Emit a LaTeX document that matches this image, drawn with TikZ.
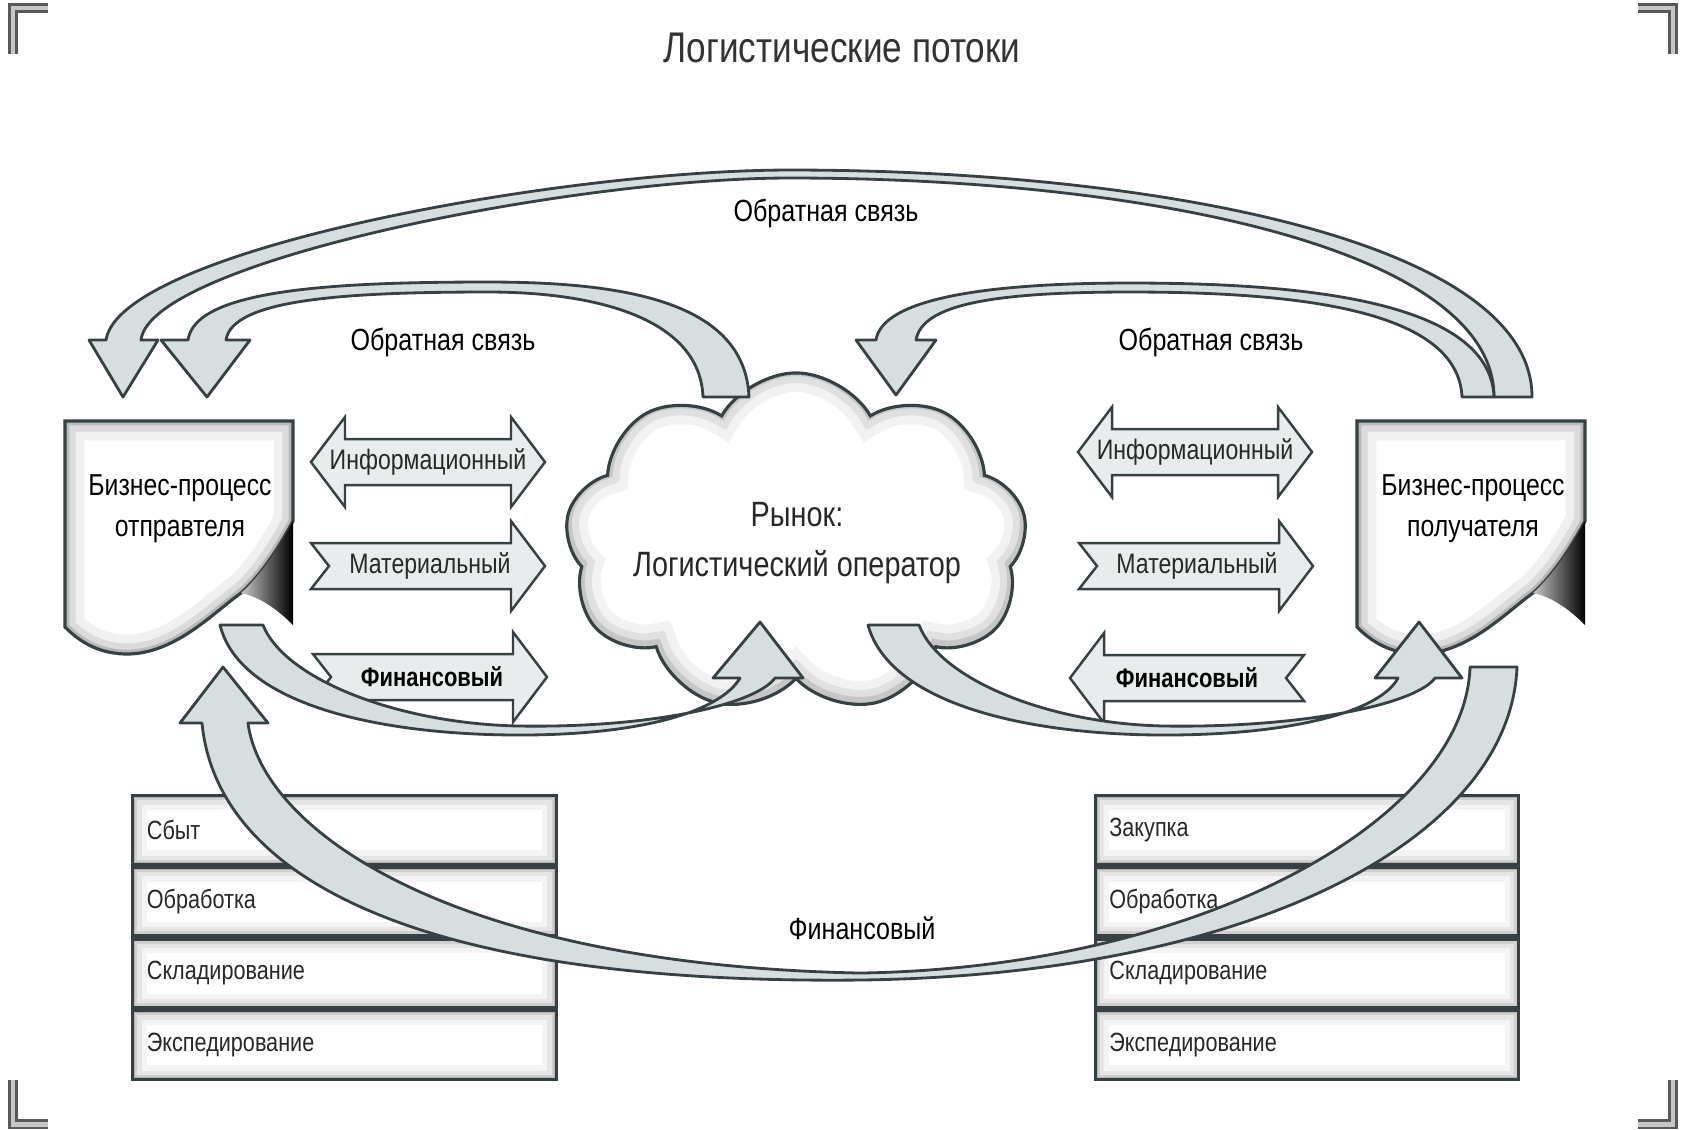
\documentclass[tikz,border=0pt]{standalone}
\usepackage{fontspec}
\setmainfont{Liberation Sans}[FakeStretch=0.82]
\usetikzlibrary{positioning,shapes.symbols}

\definecolor{bandfill}{RGB}{214,222,223}
\definecolor{bandline}{RGB}{55,64,66}
\definecolor{flowfill}{RGB}{233,236,236}
\definecolor{inkgray}{RGB}{40,40,40}

\tikzset{
  band/.style={draw=bandline, fill=bandfill, line width=0.8pt, line join=round},
  flowshape/.style={draw=bandline, fill=flowfill, line width=0.7pt, line join=miter},
  flowlabel/.style={font=\fontsize{8}{9}\selectfont, text=inkgray, inner sep=1pt},
  finlabel/.style={font=\bfseries\fontsize{7.6}{9}\selectfont, text=black, inner sep=1pt},
  caption/.style={font=\fontsize{8.7}{10}\selectfont, text=black},
  doctext/.style={font=\fontsize{8.6}{11.7}\selectfont, align=center, text=black},
  corner/.style={draw=black!65, double=gray!45, double distance=1.4pt, line width=0.7pt},
  rowbox/.style={draw=bandline, line width=0.9pt, fill=white,
    minimum width=4.23cm, minimum height=0.685cm, text width=3.95cm, inner sep=0.14cm,
    align=left, font=\fontsize{7.5}{9}\selectfont, text=inkgray,
    path picture={
      \draw[line width=8pt, gray!9] (path picture bounding box.south west) rectangle (path picture bounding box.north east);
      \draw[line width=5pt, gray!20] (path picture bounding box.south west) rectangle (path picture bounding box.north east);
      \draw[line width=2.6pt, gray!38] (path picture bounding box.south west) rectangle (path picture bounding box.north east);
      \draw[line width=1.2pt, gray!60] (path picture bounding box.south west) rectangle (path picture bounding box.north east);
    }},
  cloudbase/.style={cloud, cloud puffs=9, cloud puff arc=120, cloud ignores aspect,
    minimum width=4.62cm, minimum height=3.4cm, inner sep=0pt},
  market/.style={cloudbase, draw=bandline, line width=0.9pt, fill=white,
    path picture={
      \node[cloudbase, draw=gray!10, line width=12pt] at (path picture bounding box.center) {};
      \node[cloudbase, draw=gray!24, line width=7pt] at (path picture bounding box.center) {};
      \node[cloudbase, draw=gray!45, line width=3pt] at (path picture bounding box.center) {};
    }},
  pics/bizdoc/.style={code={
    \def\docedge{(0,0) -- (228,0) -- (228,100) .. controls (212,130) and (195,155) .. (176,172)
      .. controls (150,190) and (110,234) .. (60,233) .. controls (30,232) and (12,218) .. (0,206) -- cycle}
    \begin{scope}
      \clip \docedge;
      \fill[white] \docedge;
      \draw[line width=11pt, gray!12] \docedge;
      \draw[line width=6pt, gray!28] \docedge;
      \draw[line width=2.5pt, gray!55] \docedge;
    \end{scope}
    \draw[bandline, line width=0.9pt] \docedge;
    \shade[left color=gray!45, right color=black] (228,100) -- (228,204)
      .. controls (212,188) and (195,176) .. (176,172) .. controls (195,155) and (212,130) .. (228,100) -- cycle;
  }},
  pics/twoway/.style={code={
    \draw[flowshape] (-117,0) -- (-83,-45) -- (-83,-23) -- (83,-23) -- (83,-45) -- (117,0)
      -- (83,45) -- (83,23) -- (-83,23) -- (-83,45) -- cycle;
  }},
  pics/oneway/.style={code={
    \draw[flowshape] (-117,-23) -- (83,-23) -- (83,-45) -- (117,0) -- (83,45) -- (83,23)
      -- (-117,23) -- (-99,0) -- cycle;
  }},
}

\begin{document}
\begin{tikzpicture}[x=0.01cm, y=-0.01cm]
  \useasboundingbox (0,0) rectangle (1686,1129);

  % frame corners and heading
  \draw[corner] (13,54) -- (13,8) -- (48,8);
  \draw[corner] (1673,54) -- (1673,8) -- (1638,8);
  \draw[corner] (13,1080) -- (13,1124) -- (48,1124);
  \draw[corner] (1673,1080) -- (1673,1124) -- (1638,1124);
  \node[font=\fontsize{12.2}{14}\selectfont, text=black!80] (title) at (842,48) {Логистические потоки};

  % business processes
  \pic at (65,421) {bizdoc};
  \pic at (1357,421) {bizdoc};
  \node[doctext] (sender)   at (180,509)  {Бизнес-процесс\\отправтеля};
  \node[doctext] (receiver) at (1473,509) {Бизнес-процесс\\получателя};

  % market
  \node[market] (market) at (796,543) {};
  \node[font=\fontsize{10}{14}\selectfont, align=center, text=inkgray] (marketText) at (797,543) {Рынок:\\Логистический оператор};

  % flows
  \pic at (428,462) {twoway};
  \pic at (428,566) {oneway};
  \pic at (430,677) {oneway};
  \pic at (1195,452) {twoway};
  \pic at (1196,566) {oneway};
  \pic[xscale=-1] at (1187,678) {oneway};
  \node[flowlabel] (infoL) at (428,462)  {Информационный};
  \node[flowlabel] (matL)  at (430,566)  {Материальный};
  \node[finlabel]  (finL)  at (432,677)  {Финансовый};
  \node[flowlabel] (infoR) at (1195,452) {Информационный};
  \node[flowlabel] (matR)  at (1197,566) {Материальный};
  \node[finlabel]  (finR)  at (1187,678) {Финансовый};

  % functions
  \node[rowbox] (sbyt) at (344.5,830) {Сбыт};
  \node[rowbox, below=0pt of sbyt] (obrL) {Обработка};
  \node[rowbox, below=0pt of obrL] (sklL) {Складирование};
  \node[rowbox, below=0pt of sklL] (expL) {Экспедирование};
  \node[rowbox] (zak) at (1307,830) {Закупка};
  \node[rowbox, below=0pt of zak]  (obrR) {Обработка};
  \node[rowbox, below=0pt of obrR] (sklR) {Складирование};
  \node[rowbox, below=0pt of sklR] (expR) {Экспедирование};

  % feedback arcs
  \draw[band] (1532,397) .. controls (1532,240) and (1150,170) .. (790,170)
    .. controls (560,170) and (120,250) .. (106,340) -- (89,340) -- (123,397) -- (158,340) -- (141,340)
    .. controls (150,262) and (570,178) .. (790,178) .. controls (1150,178) and (1494,250) .. (1494,397) -- cycle;
  \draw[band] (749,397) .. controls (745,300) and (620,282) .. (488,282)
    .. controls (330,282) and (195,290) .. (188,340) -- (161,340) -- (207,397) -- (250,340) -- (226,340)
    .. controls (232,300) and (340,292) .. (488,292) .. controls (600,292) and (700,320) .. (703,397) -- cycle;
  \draw[band] (1494,397) .. controls (1490,300) and (1300,283) .. (1130,283)
    .. controls (980,283) and (882,300) .. (876,340) -- (856,340) -- (896,395) -- (936,340) -- (916,340)
    .. controls (922,305) and (990,292) .. (1130,292) .. controls (1300,292) and (1458,310) .. (1462,397) -- cycle;

  % financial and material arcs
  \draw[band] (1517,667) .. controls (1510,840) and (1250,975) .. (860,980)
    .. controls (380,985) and (215,860) .. (202,723) -- (180,723) -- (223,667) -- (268,723) -- (248,723)
    .. controls (262,830) and (450,965) .. (860,973) .. controls (1200,968) and (1465,820) .. (1470,667) -- cycle;
  \draw[band] (220,625) .. controls (240,705) and (380,735) .. (520,735)
    .. controls (640,735) and (720,712) .. (740,678) -- (713,678) -- (760,622) -- (803,678) -- (775,678)
    .. controls (755,705) and (650,728) .. (520,726) .. controls (400,724) and (285,680) .. (263,625) -- cycle;
  \draw[band] (868,625) .. controls (890,705) and (1030,735) .. (1165,735)
    .. controls (1290,735) and (1380,712) .. (1398,678) -- (1375,678) -- (1419,622) -- (1462,678) -- (1435,678)
    .. controls (1415,705) and (1300,728) .. (1165,726) .. controls (1050,724) and (940,680) .. (919,625) -- cycle;

  \node[caption] (fbTop)   at (826,213)  {Обратная связь};
  \node[caption] (fbLeft)  at (443,342)  {Обратная связь};
  \node[caption] (fbRight) at (1211,342) {Обратная связь};
  \node[caption] (finBig)  at (862,928)  {Финансовый};
\end{tikzpicture}
\end{document}
